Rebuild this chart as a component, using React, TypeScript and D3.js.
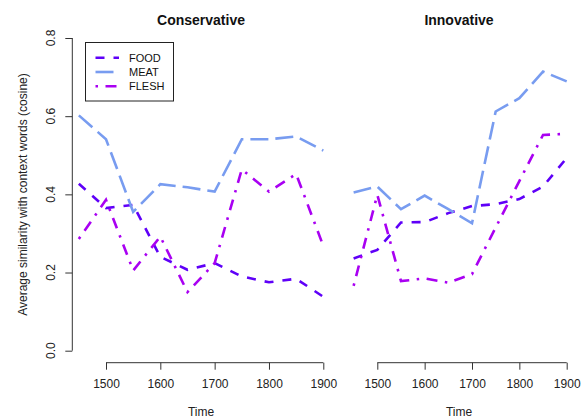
import React, { useEffect, useRef } from 'react';
import * as d3 from 'd3';

// time points shared by both panels
const years = [1450, 1500, 1550, 1600, 1650, 1700, 1750, 1800, 1850, 1900];

// Conservative panel
const consFood = [0.427, 0.365, 0.373, 0.24, 0.207, 0.224, 0.19, 0.175, 0.184, 0.138];
const consMeat = [0.602, 0.541, 0.355, 0.426, 0.418, 0.407, 0.541, 0.541, 0.548, 0.512];
const consFlesh = [0.286, 0.386, 0.205, 0.292, 0.15, 0.224, 0.464, 0.407, 0.452, 0.268];

// Innovative panel
const innoFood = [0.236, 0.258, 0.328, 0.329, 0.352, 0.37, 0.375, 0.388, 0.42, 0.493];
const innoMeat = [0.405, 0.42, 0.362, 0.397, 0.362, 0.326, 0.612, 0.646, 0.714, 0.689];
const innoFlesh = [0.166, 0.399, 0.178, 0.185, 0.174, 0.196, 0.315, 0.434, 0.552, 0.555];

const seriesNames = ['FOOD', 'MEAT', 'FLESH'];
const yTicks = [0, 0.2, 0.4, 0.6, 0.8];
const xTicks = [1500, 1600, 1700, 1800, 1900];

const styles = {
    FOOD: { color: '#5f00f8', dash: '9,9' },
    MEAT: { color: '#789cf0', dash: '18,7' },
    FLESH: { color: '#a900f2', dash: '2.5,7.5,11,7.5' },
};

export default function App() {
    const svgRef = useRef(null);

    useEffect(() => {
        const width = 585;
        const height = 418;
        const font = '"Liberation Sans", Arial, Helvetica, sans-serif';

        const svg = d3.select(svgRef.current);
        svg.html('');
        svg.attr('width', width).attr('height', height).style('font-family', font);

        const y = d3.scaleLinear().domain([0, 0.8]).range([350.7, 38]);

        const panels = [
            { title: 'Conservative', x: d3.scaleLinear().domain([1500, 1900]).range([106, 323.3]), cx: 201,
              data: { FOOD: consFood, MEAT: consMeat, FLESH: consFlesh } },
            { title: 'Innovative', x: d3.scaleLinear().domain([1500, 1900]).range([377.3, 566.7]), cx: 459,
              data: { FOOD: innoFood, MEAT: innoMeat, FLESH: innoFlesh } },
        ];

        panels.forEach(p => {
            const g = svg.append('g');

            // x axis drawn at plot bottom
            const xAxis = d3.axisBottom(p.x).tickValues(xTicks).tickSize(7).tickPadding(10).tickFormat(d3.format('d'));
            const ax = g.append('g').attr('transform', 'translate(0,362.7)').call(xAxis);
            ax.select('.domain').attr('d', `M${p.x(1500)},0H${p.x(1900)}`).attr('stroke', '#333');
            ax.selectAll('.tick line').attr('stroke', '#333');
            ax.selectAll('.tick text').attr('font-size', 12).attr('font-family', font).attr('fill', '#222');

            g.append('text')
                .attr('x', p.cx).attr('y', 416)
                .attr('text-anchor', 'middle')
                .attr('font-size', 12).attr('fill', '#222')
                .text('Time');

            g.append('text')
                .attr('x', p.cx).attr('y', 25)
                .attr('text-anchor', 'middle')
                .attr('font-size', 14).attr('font-weight', 'bold').attr('fill', '#111')
                .text(p.title);

            const line = d3.line().x((d, i) => p.x(years[i])).y(d => y(d));

            seriesNames.forEach(name => {
                g.append('path')
                    .datum(p.data[name])
                    .attr('d', line)
                    .attr('fill', 'none')
                    .attr('stroke', styles[name].color)
                    .attr('stroke-width', 2.6)
                    .attr('stroke-dasharray', styles[name].dash);
            });
        });

        // y axis (left panel only)
        const yAxis = d3.axisLeft(y).tickValues(yTicks).tickSize(7).tickFormat(d3.format('.1f'));
        const ay = svg.append('g').attr('transform', 'translate(72.3,0)').call(yAxis);
        ay.select('.domain').attr('d', `M0,${y(0)}V${y(0.8)}`).attr('stroke', '#333');
        ay.selectAll('.tick line').attr('stroke', '#333');
        ay.selectAll('.tick text').remove();
        yTicks.forEach(t => {
            svg.append('text')
                .attr('transform', `translate(54.5,${y(t)}) rotate(-90)`)
                .attr('text-anchor', 'middle')
                .attr('font-size', 12).attr('fill', '#222')
                .text(d3.format('.1f')(t));
        });

        svg.append('text')
            .attr('transform', `translate(27,194.5) rotate(-90)`)
            .attr('text-anchor', 'middle')
            .attr('font-size', 12).attr('fill', '#222')
            .text('Average similarity with context words (cosine)');

        // legend
        const lg = svg.append('g');
        lg.append('rect')
            .attr('x', 85.5).attr('y', 42.5).attr('width', 88).attr('height', 58.5)
            .attr('fill', 'white').attr('stroke', '#222').attr('stroke-width', 1);
        seriesNames.forEach((name, i) => {
            const ly = 57.7 + i * 14.3;
            lg.append('line')
                .attr('x1', 95.5).attr('x2', 119).attr('y1', ly).attr('y2', ly)
                .attr('stroke', styles[name].color)
                .attr('stroke-width', 2.6)
                .attr('stroke-dasharray', styles[name].dash);
            lg.append('text')
                .attr('x', 129).attr('y', ly + 4)
                .attr('font-size', 11).attr('fill', '#111')
                .text(name);
        });
    }, []);

    return (
        <svg ref={svgRef} style={{ position: 'absolute', left: 0, top: 0 }}></svg>
    );
}
